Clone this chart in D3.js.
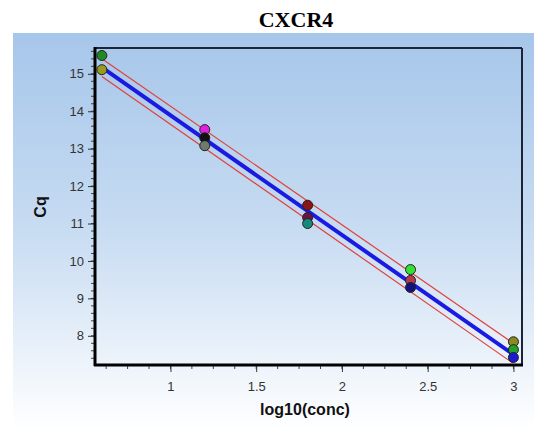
<!DOCTYPE html>
<html>
<head>
<meta charset="utf-8">
<script src="https://cdn.jsdelivr.net/npm/d3@7/dist/d3.min.js"></script>
<style>
  html, body { margin: 0; padding: 0; background: #ffffff; }
  svg { display: block; }
</style>
</head>
<body>
<svg id="chart" width="534" height="433"></svg>
<script>
// Standard curve for CXCR4: replicate Cq values per dilution step
const dilutionLog = [0.6, 1.2, 1.8, 2.4, 3.0];
const cqRep1 = [15.49, 13.51, 11.49, 9.77, 7.84];
const cqRep2 = [15.11, 13.29, 11.16, 9.48, 7.63];
const cqRep3 = [null, 13.08, 11.00, 9.29, 7.42];
const rep1Colors = ["#1f8a22", "#e020dd", "#8a1414", "#35e035", "#8c8a1e"];
const rep2Colors = ["#9a9a1c", "#111111", "#6a1448", "#b23a4a", "#22a02a"];
const rep3Colors = [null, "#6f7a70", "#17897a", "#12127e", "#1a1ad0"];

// Fitted regression line and its confidence limits (ends at first and last dilution)
const fitLog = [0.6, 3.0];
const fitCq = [15.17, 7.50];
const upperCq = [15.40, 7.80];
const lowerCq = [14.93, 7.26];

const xTicks = [1, 1.5, 2, 2.5, 3];
const yTicks = [8, 9, 10, 11, 12, 13, 14, 15];

const svg = d3.select("#chart");
const plot = { left: 95, right: 522, top: 48, bottom: 365 };

const x = d3.scaleLinear().domain([0.56, 3.05]).range([plot.left, plot.right]);
const y = d3.scaleLinear().domain([7.22, 15.69]).range([plot.bottom, plot.top]);

// Panel background
const defs = svg.append("defs");
const grad = defs.append("linearGradient").attr("id", "bg")
  .attr("x1", 0).attr("y1", 0).attr("x2", 0).attr("y2", 1);
grad.append("stop").attr("offset", "0%").attr("stop-color", "#a6c6ea");
grad.append("stop").attr("offset", "50%").attr("stop-color", "#c8dcf2");
grad.append("stop").attr("offset", "100%").attr("stop-color", "#ffffff");
svg.append("rect").attr("x", 13).attr("y", 33).attr("width", 521).attr("height", 397)
  .attr("fill", "url(#bg)");

// Title
svg.append("text").attr("x", 296).attr("y", 27).attr("text-anchor", "middle")
  .attr("font-family", "Liberation Serif, Times New Roman, serif")
  .attr("font-weight", "bold").attr("font-size", 22).attr("fill", "#000")
  .text("CXCR4");

// Minor ticks
const yMinor = d3.range(7.4, 15.61, 0.2);
svg.append("g").selectAll("line").data(yMinor).join("line")
  .attr("x1", plot.left - 4).attr("x2", plot.left)
  .attr("y1", d => y(d)).attr("y2", d => y(d))
  .attr("stroke", "#444").attr("stroke-width", 1);
const xMinor = d3.range(0.625, 3.05, 0.125);
svg.append("g").selectAll("line").data(xMinor).join("line")
  .attr("x1", d => x(d)).attr("x2", d => x(d))
  .attr("y1", plot.bottom).attr("y2", plot.bottom + 4)
  .attr("stroke", "#444").attr("stroke-width", 1);

// Axes
const yAxis = d3.axisLeft(y).tickValues(yTicks).tickSize(7).tickPadding(4).tickFormat(d3.format("d"));
const gy = svg.append("g").attr("transform", `translate(${plot.left},0)`).call(yAxis);
gy.select(".domain").remove();
gy.selectAll(".tick line").attr("stroke", "#333");
gy.selectAll(".tick text").attr("font-family", "Liberation Sans, Arial, sans-serif")
  .attr("font-size", 13).attr("fill", "#333");

const xAxis = d3.axisBottom(x).tickValues(xTicks).tickSize(7).tickPadding(10).tickFormat(d => String(d));
const gx = svg.append("g").attr("transform", `translate(0,${plot.bottom})`).call(xAxis);
gx.select(".domain").remove();
gx.selectAll(".tick line").attr("stroke", "#333");
gx.selectAll(".tick text").attr("font-family", "Liberation Sans, Arial, sans-serif")
  .attr("font-size", 13).attr("fill", "#333");

// Plot frame: heavy left/bottom, lighter top/right
svg.append("line").attr("x1", plot.left).attr("x2", plot.right).attr("y1", plot.top).attr("y2", plot.top)
  .attr("stroke", "#1c2438").attr("stroke-width", 2);
svg.append("line").attr("x1", plot.right).attr("x2", plot.right).attr("y1", plot.top).attr("y2", plot.bottom)
  .attr("stroke", "#1c2438").attr("stroke-width", 2);
svg.append("line").attr("x1", plot.left).attr("x2", plot.left).attr("y1", plot.top - 1).attr("y2", plot.bottom + 1)
  .attr("stroke", "#000").attr("stroke-width", 3);
svg.append("line").attr("x1", plot.left - 1).attr("x2", plot.right + 1).attr("y1", plot.bottom).attr("y2", plot.bottom)
  .attr("stroke", "#000").attr("stroke-width", 3);

// Axis titles
svg.append("text").attr("transform", "translate(46,207) rotate(-90)")
  .attr("text-anchor", "middle").attr("font-family", "Liberation Sans, Arial, sans-serif")
  .attr("font-weight", "bold").attr("font-size", 16).attr("fill", "#111").text("Cq");
svg.append("text").attr("x", 305).attr("y", 415).attr("text-anchor", "middle")
  .attr("font-family", "Liberation Sans, Arial, sans-serif")
  .attr("font-weight", "bold").attr("font-size", 16).attr("fill", "#111").text("log10(conc)");

// Regression line and confidence limits
const line = d3.line().x(d => x(d[0])).y(d => y(d[1]));
const band = [upperCq, lowerCq];
svg.append("g").selectAll("path").data(band).join("path")
  .attr("d", arr => line(fitLog.map((v, i) => [v, arr[i]])))
  .attr("fill", "none").attr("stroke", "#e0403a").attr("stroke-width", 1.2);
svg.append("path").attr("d", line(fitLog.map((v, i) => [v, fitCq[i]])))
  .attr("fill", "none").attr("stroke", "#1a1ae0").attr("stroke-width", 4)
  .attr("stroke-linecap", "round");

// Replicate points
const pts = [];
[[cqRep1, rep1Colors], [cqRep2, rep2Colors], [cqRep3, rep3Colors]].forEach(([vals, cols]) => {
  vals.forEach((v, i) => { if (v !== null) pts.push({ lx: dilutionLog[i], cq: v, c: cols[i] }); });
});
svg.append("g").selectAll("circle").data(pts).join("circle")
  .attr("cx", d => x(d.lx)).attr("cy", d => y(d.cq)).attr("r", 5)
  .attr("fill", d => d.c).attr("stroke", "#222").attr("stroke-width", 1);
</script>
</body>
</html>
